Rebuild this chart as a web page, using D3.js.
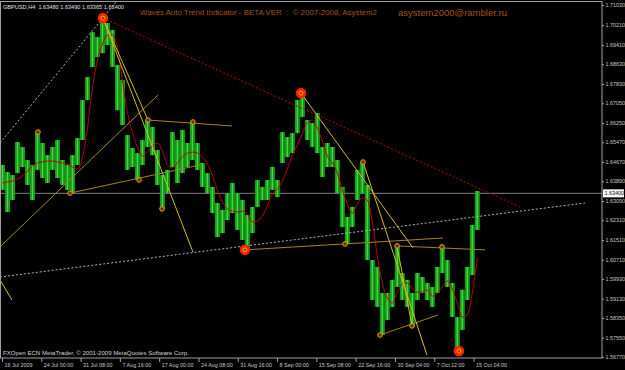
<!DOCTYPE html>
<html>
<head>
<meta charset="utf-8">
<script src="https://d3js.org/d3.v7.min.js"></script>
<style>
body { margin: 0; background: #000; }
svg { display: block; font-family: "Liberation Sans", Arial, sans-serif; }
</style>
</head>
<body>
<svg id="chart"></svg>
<script>
// time axis: one label every 32 H4 bars
const timeLabels = ["16 Jul 2009", "24 Jul 00:00", "31 Jul 08:00", "7 Aug 16:00", "17 Aug 00:00", "24 Aug 08:00",
  "31 Aug 16:00", "8 Sep 00:00", "15 Sep 08:00", "22 Sep 16:00", "30 Sep 04:00", "7 Oct 12:00", "15 Oct 04:00"]
const timeTickBars = [0, 32, 64, 96, 128, 160, 192, 224, 256, 288, 320, 352, 384]

const priceTicks = [1.71030, 1.70210, 1.69410, 1.68630, 1.67830, 1.67050, 1.66250, 1.65470, 1.64670, 1.63890,
  1.63090, 1.62310, 1.61510, 1.60710, 1.59930, 1.59130, 1.58350, 1.57550, 1.56770]

// price, read in groups of about 4 bars
const highs = [1.6455, 1.6426, 1.6414, 1.6548, 1.6528, 1.6475, 1.6455, 1.6584, 1.6544, 1.6495,
  1.6528, 1.6556, 1.6475, 1.6455, 1.6495, 1.6564, 1.6718, 1.6811, 1.6993, 1.6973,
  1.7042, 1.7030, 1.7002, 1.6860, 1.6799, 1.6576, 1.6524, 1.6503, 1.6556, 1.6637,
  1.6609, 1.6516, 1.6414, 1.6435, 1.6588, 1.6556, 1.6597, 1.6544, 1.6629, 1.6544,
  1.6463, 1.6422, 1.6366, 1.6301, 1.6273, 1.6341, 1.6382, 1.6341, 1.6313, 1.6252,
  1.6285, 1.6394, 1.6366, 1.6394, 1.6447, 1.6394, 1.6588, 1.6568, 1.6584, 1.6718,
  1.6738, 1.6637, 1.6625, 1.6665, 1.6528, 1.6544, 1.6528, 1.6475, 1.6366, 1.6244,
  1.6285, 1.6435, 1.6467, 1.6374, 1.6070, 1.6042, 1.5936, 1.5936, 1.5989, 1.6123,
  1.6017, 1.5989, 1.5936, 1.6017, 1.6001, 1.5977, 1.5961, 1.6042, 1.6123, 1.6070,
  1.5977, 1.5839, 1.5949, 1.6042, 1.6212, 1.6349]
const lows = [1.6354, 1.6264, 1.6313, 1.6422, 1.6447, 1.6374, 1.6313, 1.6435, 1.6402, 1.6382,
  1.6435, 1.6402, 1.6374, 1.6354, 1.6341, 1.6455, 1.6556, 1.6718, 1.6852, 1.6892,
  1.6908, 1.6941, 1.6852, 1.6677, 1.6617, 1.6435, 1.6447, 1.6394, 1.6455, 1.6528,
  1.6495, 1.6374, 1.6277, 1.6341, 1.6447, 1.6382, 1.6422, 1.6447, 1.6475, 1.6435,
  1.6366, 1.6341, 1.6260, 1.6163, 1.6179, 1.6232, 1.6260, 1.6192, 1.6151, 1.6111,
  1.6179, 1.6285, 1.6313, 1.6313, 1.6354, 1.6325, 1.6463, 1.6487, 1.6503, 1.6584,
  1.6649, 1.6556, 1.6528, 1.6503, 1.6406, 1.6447, 1.6447, 1.6341, 1.6204, 1.6135,
  1.6204, 1.6313, 1.6341, 1.6070, 1.5908, 1.5880, 1.5766, 1.5827, 1.5880, 1.5961,
  1.5908, 1.5880, 1.5799, 1.5908, 1.5936, 1.5908, 1.5880, 1.5936, 1.6017, 1.5961,
  1.5839, 1.5701, 1.5787, 1.5908, 1.6009, 1.6192]
const maValues = [1.6382, 1.6386, 1.6390, 1.6398, 1.6410, 1.6430, 1.6451, 1.6463, 1.6467, 1.6471,
  1.6471, 1.6467, 1.6463, 1.6459, 1.6447, 1.6439, 1.6487, 1.6605, 1.6767, 1.6880,
  1.6945, 1.6981, 1.6981, 1.6929, 1.6799, 1.6669, 1.6588, 1.6528, 1.6491, 1.6507,
  1.6532, 1.6544, 1.6511, 1.6455, 1.6443, 1.6463, 1.6487, 1.6503, 1.6507, 1.6503,
  1.6487, 1.6459, 1.6414, 1.6354, 1.6305, 1.6277, 1.6268, 1.6264, 1.6268, 1.6256,
  1.6224, 1.6228, 1.6248, 1.6289, 1.6337, 1.6358, 1.6390, 1.6439, 1.6495, 1.6536,
  1.6584, 1.6625, 1.6637, 1.6605, 1.6552, 1.6491, 1.6463, 1.6422, 1.6354, 1.6297,
  1.6260, 1.6297, 1.6321, 1.6313, 1.6224, 1.6086, 1.5977, 1.5916, 1.5896, 1.5940,
  1.5973, 1.5977, 1.5953, 1.5940, 1.5940, 1.5949, 1.5924, 1.5936, 1.5961, 1.5985,
  1.5953, 1.5896, 1.5839, 1.5847, 1.5936, 1.6078]
const barsPerCol = 4.07
const lastPrice = 1.63400

// wave pivots [bar, price]
const bigPivots = [[82.2, 1.7050], [197.9, 1.6111], [243.5, 1.6746], [372.1, 1.5701]]
const smallPivots = [[29.3, 1.6588], [55.4, 1.6341], [111.6, 1.6394], [118.9, 1.6637], [130.3, 1.6277],
  [155.5, 1.6629], [279.3, 1.6135], [294.0, 1.6467], [307.8, 1.5766], [321.7, 1.6127], [333.9, 1.5803], [358.3, 1.6123]]

// trend lines [bar1, price1, bar2, price2]
const grayDotted = [[-1.6, 1.6544, 92.8, 1.7115], [-1.6, 1.6001, 474.8, 1.6301]]
const redDotted = [[82.2, 1.7050, 421.8, 1.6285]]
const yellowLines = [[82.2, 1.7050, 118.9, 1.6637], [82.2, 1.7050, 155.5, 1.6102], [-1.6, 1.5989, 8.1, 1.5908],
  [321.7, 1.6127, 333.9, 1.5803], [243.5, 1.6746, 334.7, 1.6119], [294.0, 1.6467, 346.1, 1.5685]]
const goldLines = [[-1.6, 1.6123, 127.0, 1.6738], [55.4, 1.6341, 161.2, 1.6455], [118.9, 1.6637, 187.3, 1.6613],
  [197.9, 1.6111, 359.1, 1.6159], [321.7, 1.6127, 393.3, 1.6111], [307.8, 1.5766, 355.0, 1.5847]]

const width = 625, height = 370
const plotRight = 602, plotBottom = 358

const svg = d3.select("#chart")
  .attr("width", width)
  .attr("height", height)

svg.append("rect").attr("width", width).attr("height", height).attr("fill", "#000")

const x = d3.scaleLinear().domain([0, 490]).range([2, 603.7])
const y = d3.scaleLinear().domain([1.5677, 1.7103]).range([357, 5])
const colBar = i => i * barsPerCol + 0.4
const colW = x(barsPerCol) - x(0)

svg.append("defs").append("clipPath").attr("id", "plot")
  .append("rect").attr("x", 0).attr("y", 1).attr("width", plotRight).attr("height", plotBottom - 1)

const g = svg.append("g").attr("clip-path", "url(#plot)")

g.append("line")
  .attr("x1", 0).attr("x2", plotRight)
  .attr("y1", y(lastPrice)).attr("y2", y(lastPrice))
  .attr("stroke", "#808080")

g.selectAll(".bar")
  .data(highs)
  .join("rect")
  .attr("class", "bar")
  .attr("x", (d, i) => x(colBar(i)) - colW / 2)
  .attr("width", colW)
  .attr("y", d => y(d))
  .attr("height", (d, i) => y(lows[i]) - y(d))
  .attr("fill", "#189818")

g.selectAll(".spike")
  .data(highs)
  .join("line")
  .attr("class", "spike")
  .attr("x1", (d, i) => x(colBar(i)))
  .attr("x2", (d, i) => x(colBar(i)))
  .attr("y1", d => y(d))
  .attr("y2", (d, i) => y(lows[i]))
  .attr("stroke", "#3ede3e")
  .attr("stroke-width", 1.3)

const drawLines = (data, color, dash) => {
  g.append("g").selectAll("line")
    .data(data)
    .join("line")
    .attr("x1", d => x(d[0])).attr("y1", d => y(d[1]))
    .attr("x2", d => x(d[2])).attr("y2", d => y(d[3]))
    .attr("stroke", color)
    .attr("stroke-width", 1)
    .attr("stroke-dasharray", dash)
}

drawLines(grayDotted, "#b4b4b4", "2,2")
drawLines(redDotted, "#b40000", "2,2")

g.append("path")
  .datum(maValues)
  .attr("fill", "none")
  .attr("stroke", "#c00000")
  .attr("stroke-width", 1)
  .attr("d", d3.line().x((d, i) => x(colBar(i))).y(d => y(d)).curve(d3.curveMonotoneX))

drawLines(goldLines, "#a8841c", null)
drawLines(yellowLines, "#d2bc1e", null)

g.selectAll(".pivot")
  .data(smallPivots)
  .join("circle")
  .attr("class", "pivot")
  .attr("cx", d => x(d[0])).attr("cy", d => y(d[1]))
  .attr("r", 2.3)
  .attr("fill", "#5a3a00")
  .attr("stroke", "#f0a020")

g.selectAll(".big")
  .data(bigPivots)
  .join("circle")
  .attr("class", "big")
  .attr("cx", d => x(d[0])).attr("cy", d => y(d[1]))
  .attr("r", 5.3)
  .attr("fill", "#ff2000")

g.selectAll(".bigIn")
  .data(bigPivots)
  .join("circle")
  .attr("class", "bigIn")
  .attr("cx", d => x(d[0])).attr("cy", d => y(d[1]))
  .attr("r", 2)
  .attr("fill", "#c03000")
  .attr("stroke", "#ffb000")

// frame and axes
svg.append("rect")
  .attr("x", 0.5).attr("y", 1.5)
  .attr("width", plotRight - 0.5).attr("height", plotBottom - 1.5)
  .attr("fill", "none")
  .attr("stroke", "#a0a0a0")

const yAxis = svg.append("g")
  .attr("transform", `translate(${plotRight},0)`)
  .call(d3.axisRight(y).tickValues(priceTicks).tickFormat(d3.format(".5f")).tickSize(2).tickSizeOuter(0).tickPadding(1.5))
yAxis.select(".domain").remove()
yAxis.selectAll("line").attr("stroke", "#a0a0a0")
yAxis.selectAll("text").attr("fill", "#c8c8c8").attr("font-size", 5.4)

const xAxis = svg.append("g")
  .attr("transform", `translate(0,${plotBottom})`)
  .call(d3.axisBottom(x).tickValues(timeTickBars).tickFormat((d, i) => timeLabels[i]).tickSize(4).tickSizeOuter(0))
xAxis.select(".domain").remove()
xAxis.selectAll("line").attr("stroke", "#a0a0a0")
xAxis.selectAll("text")
  .attr("fill", "#c8c8c8")
  .attr("font-size", 5.4)
  .attr("text-anchor", "start")
  .attr("x", 2)
  .attr("y", 5)

svg.append("rect")
  .attr("x", plotRight + 1).attr("y", y(lastPrice) - 4)
  .attr("width", 21).attr("height", 8)
  .attr("fill", "#ffffff")
svg.append("text")
  .attr("x", plotRight + 2.5).attr("y", y(lastPrice) + 2)
  .attr("font-size", 5.4)
  .attr("fill", "#000")
  .text(d3.format(".5f")(lastPrice))

// captions
svg.append("text")
  .attr("x", 3).attr("y", 8.5)
  .attr("font-size", 5.6)
  .attr("fill", "#e0e0e0")
  .attr("xml:space", "preserve")
  .text("GBPUSD,H4  1.63480 1.63490 1.63365 1.63400")

svg.append("text")
  .attr("x", 140).attr("y", 15)
  .attr("font-size", 7.9)
  .attr("fill", "#a85018")
  .attr("xml:space", "preserve")
  .text("Waves Auto Trend Indicator - BETA VER  :  © 2007-2008, Asystem2")

svg.append("text")
  .attr("x", 398).attr("y", 15.5)
  .attr("font-size", 9.5)
  .attr("fill", "#a85018")
  .text("asystem2000@rambler.ru")

svg.append("text")
  .attr("x", 3).attr("y", 355)
  .attr("font-size", 6.1)
  .attr("fill", "#d0d0d0")
  .text("FXOpen ECN MetaTrader, © 2001-2009 MetaQuotes Software Corp.")
</script>
</body>
</html>
